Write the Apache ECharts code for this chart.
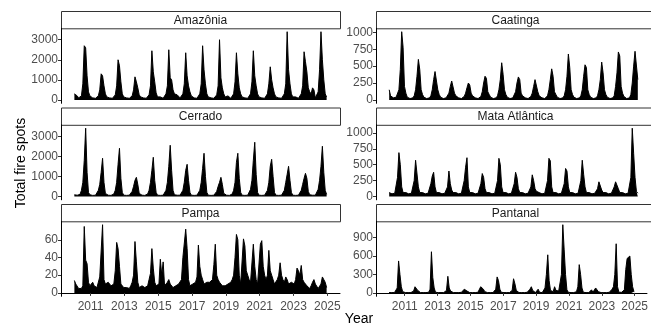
<!DOCTYPE html>
<html>
<head>
<meta charset="utf-8">
<script src="https://cdn.jsdelivr.net/npm/echarts@6/dist/echarts.min.js"></script>
<style>
html, body { margin: 0; padding: 0; background: #fff; }
#chart { width: 651px; height: 327px; }
</style>
</head>
<body>
<div id="chart"></div>
<script>
// monthly peak of daily fire spots, one row per year (2010 .. 2024), Jan..Dec
var firstYear = 2010;
var yearTicks = [2011, 2013, 2015, 2017, 2019, 2021, 2023, 2025];

var amazonia = [
    [300, 250, 200, 100, 100, 200, 800, 2700, 2600, 1200, 400, 200],
    [150, 100, 100, 80, 100, 200, 500, 1300, 1200, 700, 300, 150],
    [150, 100, 100, 80, 100, 250, 700, 2000, 1700, 900, 300, 150],
    [150, 100, 80, 80, 80, 200, 500, 1150, 900, 600, 250, 150],
    [150, 100, 100, 80, 100, 250, 700, 2450, 1400, 900, 350, 150],
    [200, 150, 100, 80, 100, 300, 700, 2500, 1100, 1000, 500, 300],
    [300, 250, 200, 100, 100, 300, 800, 2350, 1200, 700, 400, 200],
    [150, 100, 100, 80, 100, 300, 800, 2700, 1500, 800, 300, 150],
    [150, 100, 100, 80, 100, 250, 700, 3000, 1100, 600, 300, 150],
    [200, 200, 150, 80, 100, 300, 900, 2350, 1300, 600, 300, 150],
    [150, 100, 100, 80, 100, 300, 900, 2450, 1200, 700, 300, 150],
    [150, 100, 100, 80, 100, 300, 800, 1650, 1000, 600, 300, 150],
    [150, 100, 100, 80, 100, 300, 800, 3400, 1500, 800, 300, 150],
    [200, 150, 150, 80, 100, 300, 700, 2400, 1900, 1400, 600, 400],
    [300, 600, 500, 100, 100, 400, 1500, 3400, 2000, 1000, 300, 150]
];
var caatinga = [
    [150, 60, 40, 30, 30, 40, 60, 150, 450, 1010, 780, 200],
    [100, 40, 30, 20, 20, 30, 60, 150, 350, 600, 450, 150],
    [80, 40, 30, 20, 20, 30, 60, 150, 300, 420, 400, 150],
    [80, 40, 30, 20, 20, 30, 50, 100, 200, 280, 260, 100],
    [60, 40, 30, 20, 20, 30, 50, 100, 180, 250, 220, 100],
    [60, 40, 30, 20, 20, 30, 50, 120, 250, 350, 320, 120],
    [80, 40, 30, 20, 20, 30, 60, 150, 300, 550, 380, 150],
    [80, 40, 30, 20, 20, 30, 50, 120, 250, 340, 300, 100],
    [60, 40, 30, 20, 20, 30, 50, 100, 200, 300, 300, 120],
    [60, 40, 30, 20, 20, 30, 60, 150, 300, 460, 350, 120],
    [80, 40, 30, 20, 20, 30, 60, 150, 350, 680, 480, 150],
    [80, 40, 30, 20, 20, 30, 60, 150, 350, 520, 480, 150],
    [80, 40, 30, 20, 20, 30, 60, 150, 300, 560, 400, 150],
    [80, 40, 30, 20, 20, 30, 60, 200, 400, 710, 650, 200],
    [100, 50, 30, 20, 20, 30, 80, 250, 500, 720, 720, 300]
];
var cerrado = [
    [80, 60, 60, 60, 100, 300, 700, 1800, 3400, 1200, 200, 80],
    [60, 50, 50, 60, 120, 300, 600, 1200, 1900, 700, 150, 60],
    [60, 50, 50, 60, 120, 300, 700, 1600, 2400, 900, 200, 60],
    [60, 50, 50, 60, 100, 250, 500, 800, 950, 600, 150, 60],
    [60, 50, 50, 60, 120, 300, 700, 1300, 1950, 800, 200, 60],
    [60, 50, 50, 60, 120, 300, 700, 1500, 2550, 1300, 300, 80],
    [80, 60, 60, 60, 120, 300, 700, 1300, 1600, 800, 200, 60],
    [60, 50, 50, 60, 120, 300, 700, 1400, 2150, 1000, 200, 60],
    [60, 50, 50, 60, 100, 250, 500, 700, 950, 600, 150, 60],
    [60, 50, 50, 60, 120, 300, 700, 1700, 2150, 900, 200, 60],
    [60, 50, 50, 60, 120, 350, 800, 1800, 2700, 1100, 200, 60],
    [60, 50, 50, 60, 120, 300, 700, 1500, 1850, 1000, 200, 60],
    [60, 50, 50, 60, 120, 300, 700, 1100, 1500, 800, 200, 60],
    [60, 50, 50, 60, 120, 300, 600, 900, 1150, 900, 250, 80],
    [80, 60, 60, 60, 120, 350, 800, 1500, 2500, 1200, 300, 100]
];
var mataAtlantica = [
    [60, 50, 40, 40, 50, 80, 300, 690, 500, 150, 60, 50],
    [60, 50, 40, 40, 50, 80, 250, 570, 560, 150, 60, 50],
    [60, 50, 40, 40, 50, 80, 200, 320, 380, 150, 60, 50],
    [60, 50, 40, 40, 50, 80, 150, 400, 200, 100, 60, 50],
    [60, 50, 40, 40, 50, 80, 250, 460, 610, 150, 60, 50],
    [60, 50, 40, 40, 50, 80, 200, 360, 300, 120, 60, 50],
    [60, 50, 40, 40, 50, 80, 250, 600, 500, 150, 60, 50],
    [60, 50, 40, 40, 50, 80, 200, 380, 300, 120, 60, 50],
    [60, 50, 40, 40, 50, 80, 150, 340, 250, 120, 80, 60],
    [60, 50, 40, 40, 50, 80, 250, 600, 560, 150, 60, 50],
    [60, 50, 40, 40, 50, 80, 200, 440, 400, 150, 60, 50],
    [60, 50, 40, 40, 50, 80, 250, 570, 350, 150, 60, 50],
    [60, 50, 40, 40, 50, 80, 120, 230, 200, 100, 60, 50],
    [60, 50, 40, 40, 50, 80, 150, 230, 200, 120, 60, 50],
    [60, 50, 40, 40, 50, 80, 300, 1075, 680, 300, 80, 50]
];
var pampa = [
    [14, 10, 8, 5, 5, 5, 8, 75, 37, 33, 12, 8],
    [10, 12, 8, 6, 6, 8, 18, 20, 77, 15, 10, 8],
    [12, 10, 8, 8, 10, 25, 57, 50, 30, 10, 8, 6],
    [8, 6, 5, 5, 8, 12, 20, 58, 35, 12, 6, 5],
    [8, 10, 6, 5, 8, 15, 22, 50, 28, 12, 8, 6],
    [10, 38, 20, 35, 8, 10, 12, 15, 10, 8, 6, 6],
    [8, 8, 10, 12, 15, 40, 42, 72, 50, 15, 8, 6],
    [10, 8, 12, 18, 54, 30, 20, 15, 10, 8, 12, 10],
    [12, 10, 15, 32, 55, 20, 15, 12, 10, 8, 8, 8],
    [8, 10, 8, 12, 15, 20, 40, 66, 60, 20, 10, 8],
    [61, 53, 25, 20, 15, 12, 10, 55, 30, 15, 10, 12],
    [55, 59, 30, 20, 15, 20, 48, 25, 20, 15, 10, 8],
    [15, 20, 34, 20, 15, 12, 18, 15, 10, 8, 12, 10],
    [10, 15, 28, 25, 20, 31, 15, 12, 10, 8, 6, 5],
    [8, 12, 15, 10, 8, 5, 4, 10, 18, 15, 12, 6]
];
var pantanal = [
    [5, 5, 5, 5, 5, 10, 80, 520, 300, 100, 20, 5],
    [5, 5, 5, 5, 5, 10, 30, 100, 90, 40, 10, 5],
    [5, 5, 5, 5, 5, 10, 60, 670, 250, 80, 10, 5],
    [5, 5, 5, 5, 5, 10, 40, 270, 80, 30, 10, 5],
    [5, 5, 5, 5, 5, 10, 20, 60, 70, 30, 10, 5],
    [5, 5, 5, 5, 5, 10, 30, 100, 130, 60, 20, 5],
    [5, 5, 5, 5, 5, 10, 60, 260, 200, 60, 10, 5],
    [5, 5, 5, 5, 5, 10, 40, 230, 150, 40, 10, 5],
    [5, 5, 5, 5, 5, 10, 20, 60, 100, 40, 10, 5],
    [5, 60, 10, 5, 5, 10, 80, 300, 620, 200, 40, 10],
    [20, 100, 40, 20, 30, 40, 300, 1110, 700, 300, 50, 10],
    [5, 5, 5, 5, 5, 20, 100, 460, 300, 80, 10, 5],
    [5, 5, 5, 5, 50, 10, 40, 80, 50, 20, 10, 5],
    [5, 5, 5, 5, 5, 10, 20, 60, 100, 300, 800, 100],
    [10, 20, 10, 10, 50, 380, 560, 580, 600, 300, 100, 20]
];

var amazoniaTicks = [0, 1000, 2000, 3000];
var caatingaTicks = [0, 250, 500, 750, 1000];
var cerradoTicks = [0, 1000, 2000, 3000];
var mataTicks = [0, 250, 500, 750, 1000];
var pampaTicks = [0, 20, 40, 60];
var pantanalTicks = [0, 300, 600, 900];

var panels = [
    { name: 'Amazônia', rows: amazonia, ticks: amazoniaTicks },
    { name: 'Caatinga', rows: caatinga, ticks: caatingaTicks },
    { name: 'Cerrado', rows: cerrado, ticks: cerradoTicks },
    { name: 'Mata Atlântica', rows: mataAtlantica, ticks: mataTicks },
    { name: 'Pampa', rows: pampa, ticks: pampaTicks },
    { name: 'Pantanal', rows: pantanal, ticks: pantanalTicks }
];

var font = '"Liberation Sans", Arial, sans-serif';
var colLeft = [61, 376];
var panelW = 279;
var stripTop0 = 11, rowStep = 96.5, stripH = 17.3, plotH = 75;

var grids = [], xAxes = [], yAxes = [], series = [], graphics = [];

panels.forEach(function (p, i) {
    var col = i % 2, row = Math.floor(i / 2);
    var stripTop = stripTop0 + row * rowStep;
    var plotTop = stripTop + stripH;
    var bottomRow = row === 2;

    var data = [];
    var peak = 0;
    p.rows.forEach(function (vals, yi) {
        vals.forEach(function (v, m) {
            data.push([firstYear + yi + (m + 0.5) / 12, v]);
            if (v > peak) peak = v;
        });
    });

    grids.push({ left: colLeft[col], top: plotTop, width: panelW, height: plotH });

    xAxes.push({
        type: 'value', gridIndex: i, min: 2009.25, max: 2025.75,
        axisLine: { show: bottomRow, lineStyle: { color: '#000', width: 1 } },
        axisTick: { show: bottomRow, customValues: yearTicks, length: 3, lineStyle: { color: '#333' } },
        axisLabel: {
            show: bottomRow, customValues: yearTicks, margin: 4,
            color: '#4d4d4d', fontSize: 12, fontFamily: font,
            formatter: function (v) { return String(v); }
        },
        splitLine: { show: false }
    });

    yAxes.push({
        type: 'value', gridIndex: i, min: -0.05 * peak, max: 1.05 * peak,
        axisLine: { show: true, lineStyle: { color: '#000', width: 1 } },
        axisTick: { show: true, customValues: p.ticks, length: 3, lineStyle: { color: '#333' } },
        axisLabel: {
            customValues: p.ticks, margin: 3,
            color: '#4d4d4d', fontSize: 12, fontFamily: font,
            formatter: function (v) { return String(v); }
        },
        splitLine: { show: false }
    });

    series.push({
        type: 'line', xAxisIndex: i, yAxisIndex: i, data: data,
        symbol: 'none', silent: true,
        lineStyle: { color: '#000', width: 1 },
        areaStyle: { color: '#000', opacity: 1 }
    });

    // facet strip
    graphics.push({
        type: 'rect',
        shape: { x: colLeft[col] + 0.5, y: stripTop + 0.5, width: panelW, height: stripH },
        style: { fill: '#fff', stroke: '#333', lineWidth: 1 }
    });
    graphics.push({
        type: 'text',
        x: colLeft[col] + panelW / 2, y: stripTop + stripH / 2 + 1,
        style: {
            text: p.name, fill: '#1a1a1a', font: '12px ' + font,
            align: 'center', verticalAlign: 'middle'
        }
    });
});

graphics.push({
    type: 'text', x: 21, y: 163, rotation: Math.PI / 2,
    style: { text: 'Total fire spots', fill: '#000', font: '14px ' + font, align: 'center', verticalAlign: 'middle' }
});
graphics.push({
    type: 'text', x: 359, y: 319,
    style: { text: 'Year', fill: '#000', font: '14px ' + font, align: 'center', verticalAlign: 'middle' }
});

var myChart = echarts.init(document.getElementById('chart'));
var option = {
    animation: false,
    backgroundColor: '#fff',
    grid: grids,
    xAxis: xAxes,
    yAxis: yAxes,
    series: series,
    graphic: graphics
};
myChart.setOption(option);
</script>
</body>
</html>
